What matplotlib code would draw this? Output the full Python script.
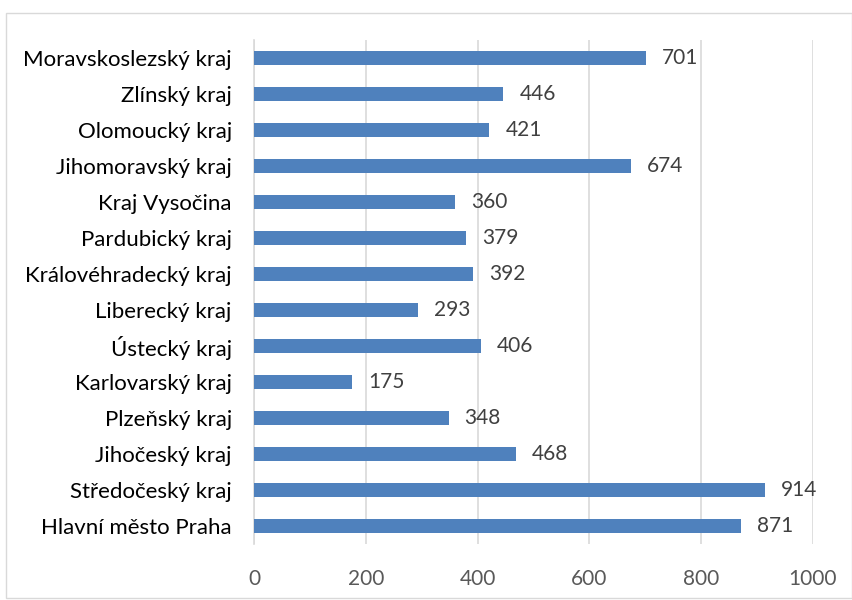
import matplotlib
matplotlib.use("Agg")
import matplotlib.pyplot as plt
from matplotlib.patches import Rectangle
from matplotlib.transforms import offset_copy

categories = ["Hlavní město Praha", "Středočeský kraj", "Jihočeský kraj", "Plzeňský kraj",
              "Karlovarský kraj", "Ústecký kraj", "Liberecký kraj", "Královéhradecký kraj",
              "Pardubický kraj", "Kraj Vysočina", "Jihomoravský kraj", "Olomoucký kraj",
              "Zlínský kraj", "Moravskoslezský kraj"]
values = [871, 914, 468, 348, 175, 406, 293, 392, 379, 360, 674, 421, 446, 701]
xticks = [0, 200, 400, 600, 800, 1000]

plt.rcParams['font.family'] = ['Lato', 'DejaVu Sans']

fig = plt.figure(figsize=(8.53, 6.0), dpi=100)
ax = fig.add_axes([254/853, 1-544/600, (813-254)/853, (544-40)/600])

bar_color = '#4f81bd'
ypos = list(range(len(categories)))
ax.barh(ypos, values, height=0.38, color=bar_color, zorder=3)
trans = offset_copy(ax.transData, fig=fig, x=16, y=0, units='dots')
for y, v in zip(ypos, values):
    ax.text(v, y, str(v), va='center', ha='left', fontsize=15, color='#404040', transform=trans)

ax.set_xlim(0, 1000)
ax.set_ylim(-0.5, len(categories) - 0.5)
ax.set_yticks(ypos)
ax.set_yticklabels(categories, fontsize=16, color='#000000')
ax.set_xticks(xticks)
ax.set_xticklabels([str(t) for t in xticks], fontsize=15, color='#595959')
ax.tick_params(axis='both', length=0)
ax.tick_params(axis='y', pad=16)
ax.tick_params(axis='x', pad=18)
ax.grid(axis='x', color='#d9d9d9', linewidth=1.2, zorder=0)
for s in ['top', 'right', 'bottom']:
    ax.spines[s].set_visible(False)
ax.spines['left'].set_color('#d9d9d9')
ax.spines['left'].set_linewidth(1.2)

fig.patches.append(Rectangle((6/853, 2/600), 846/853, (598-13)/600, transform=fig.transFigure,
                             fill=False, edgecolor='#d9d9d9', linewidth=1))

fig.savefig('out.png', dpi=100)
